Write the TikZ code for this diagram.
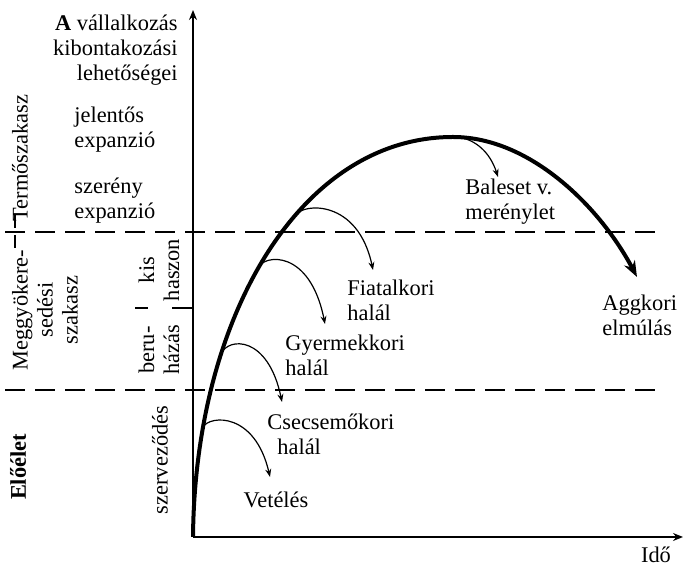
\documentclass[tikz,border=0pt]{standalone}
\usepackage{fontspec}
\setmainfont{Liberation Serif}
\usetikzlibrary{arrows.meta}

\begin{document}
\begin{tikzpicture}[x=0.5pt,y=0.5pt,
    font=\fontsize{11.2}{12.5}\selectfont,
    axis/.style={line width=1pt,-{Stealth[length=5pt,width=4pt]}},
    branch/.style={line width=0.6pt,-{Stealth[length=4pt,width=3pt]}},
    divide/.style={line width=0.6pt,dash pattern=on 10pt off 5pt},
    phase/.style={rotate=90,align=center,inner sep=0pt},
    lbl/.style={align=left,anchor=west,inner sep=0pt}]
    \useasboundingbox (0,0) rectangle (685,567);
    \coordinate (O) at (193,30);
    \coordinate (ytop) at (193,557);
    \coordinate (xend) at (683,30);
    \coordinate (peak) at (453,430);
    \coordinate (old) at (637,290);
    \draw[axis] (O) -- (ytop);
    \draw[axis] (O) -- (xend);
    \node[inner sep=0pt] (ido) at (656,12) {Idő};
    \draw[divide] (5,335) -- (655,335);
    \draw[divide] (5,177) -- (655,177);
    \draw[line width=0.6pt] (135,259) -- (148,259) (172,259) -- (193,259);
    \draw[line width=0.6pt] (15,339) -- (15,352) (15,319) -- (15,332);
    \draw[line width=2pt,-{Stealth[length=8pt,width=6pt]}] (O)
      .. controls (195,250) and (300,430) .. (peak)
      .. controls (530,430) and (600,360) .. (old);
    \draw[branch] (203,140) .. controls (210,152) and (255,155) .. (270,90);
    \draw[branch] (221,213) .. controls (228,230) and (268,232) .. (282,165);
    \draw[branch] (258,299) .. controls (264,313) and (310,318) .. (325,243);
    \draw[branch] (296,352) .. controls (303,364) and (358,368) .. (373,297);
    \draw[branch] (457,430) .. controls (475,428) and (490,415) .. (498,390);
    \node[inner sep=0pt] (vetel) at (276,67) {Vetélés};
    \node[lbl] (csecs) at (267,133) {Csecsemőkori\\\hspace*{5pt}halál};
    \node[lbl] (gyerm) at (285,212) {Gyermekkori\\halál};
    \node[lbl] (fiatal) at (347,267) {Fiatalkori\\halál};
    \node[lbl] (baleset) at (465,365) {Baleset v.\\merénylet};
    \node[lbl] (aggkor) at (602,252) {Aggkori\\elmúlás};
    \node[align=right,anchor=east,inner sep=0pt] (lehet) at (178,517)
      {\textbf{A} vállalkozás\\kibontakozási\\lehetőségei};
    \node[lbl] (jelentos) at (74,437) {jelentős\\expanzió};
    \node[lbl] (szereny) at (74,366) {szerény\\expanzió};
    \node[phase] (termo) at (20,409) {Termőszakasz};
    \node[phase] (meggy) at (45,257) {Meggyökere-\\sedési\\szakasz};
    \node[phase] (elo) at (18,100) {\textbf{Előélet}};
    \node[phase] (beru) at (159,217) {beru-\\házás};
    \node[phase] (kis) at (159,297) {kis\\haszon};
    \node[phase] (szerv) at (160,107) {szerveződés};
\end{tikzpicture}
\end{document}
